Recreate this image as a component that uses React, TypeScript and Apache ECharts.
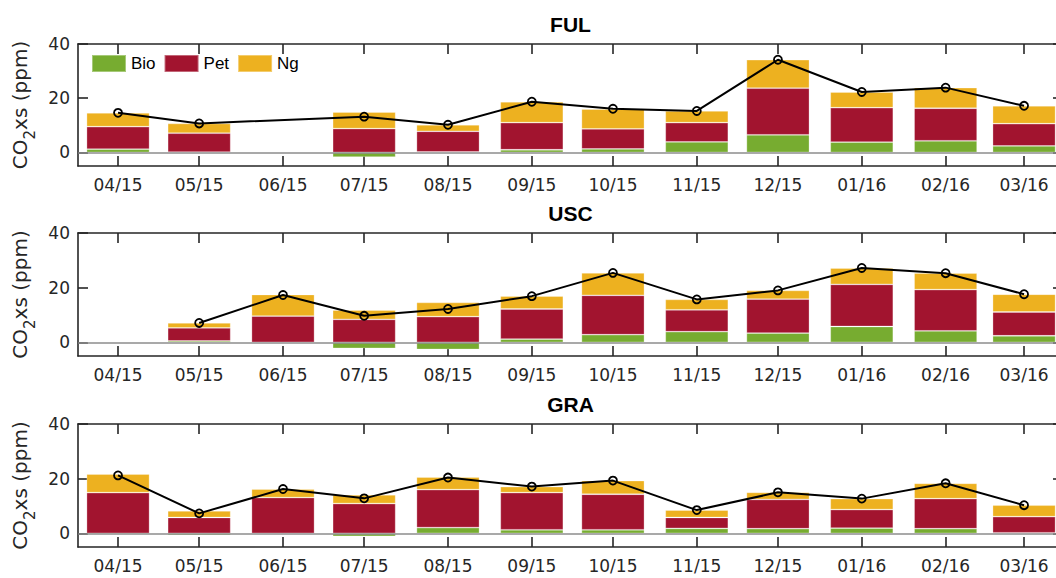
import React, { useEffect, useRef } from "react";
import * as echarts from "echarts";

// Month positions (days since 2015-04-01) and their labels
const tickDays = [0, 30, 61, 91, 122, 153, 183, 214, 244, 275, 306, 335];
const tickLabels = ["04/15", "05/15", "06/15", "07/15", "08/15", "09/15", "10/15", "11/15", "12/15", "01/16", "02/16", "03/16"];
const yTicks = [0, 20, 40];
const siteNames = ["FUL", "USC", "GRA"];

// FUL
const fulBio = [1.2, 0.1, null, -1.7, 0.2, 1.0, 1.3, 3.9, 6.5, 3.8, 4.3, 2.4];
const fulPet = [8.3, 7.0, null, 8.8, 7.6, 10.0, 7.4, 7.1, 17.2, 12.7, 12.0, 8.2];
const fulNg = [5.1, 3.6, null, 6.1, 2.4, 7.7, 7.3, 4.3, 10.5, 5.8, 7.6, 6.6];
const fulTotal = [14.6, 10.7, null, 13.2, 10.2, 18.7, 16.1, 15.3, 34.2, 22.3, 23.9, 17.2];

// USC
const uscBio = [0.3, 0.5, 0, -2.2, -2.6, 1.2, 2.8, 3.9, 3.4, 5.8, 4.2, 2.4];
const uscPet = [0, 4.8, 9.6, 8.4, 9.4, 11.0, 14.4, 8.0, 12.4, 15.4, 15.1, 8.7];
const uscNg = [0, 1.8, 7.9, 3.4, 5.2, 4.7, 8.2, 3.8, 3.2, 6.0, 6.0, 6.5];
const uscTotal = [null, 7.1, 17.3, 9.7, 12.2, 16.9, 25.4, 15.7, 19.0, 27.2, 25.3, 17.6];

// GRA
const graBio = [-0.4, -0.7, 0, -1.1, 2.1, 1.3, 1.3, 1.8, 1.7, 1.9, 1.7, 0.2];
const graPet = [14.9, 5.8, 13.1, 10.9, 13.9, 13.6, 13.0, 4.0, 10.7, 6.8, 11.0, 5.9];
const graNg = [6.8, 2.4, 3.1, 3.2, 4.6, 2.2, 5.0, 2.7, 2.6, 4.0, 5.6, 4.2];
const graTotal = [21.2, 7.3, 16.2, 12.8, 20.4, 17.1, 19.3, 8.5, 15.0, 12.7, 18.3, 10.3];

const siteData = [
  { bio: fulBio, pet: fulPet, ng: fulNg, total: fulTotal },
  { bio: uscBio, pet: uscPet, ng: uscNg, total: uscTotal },
  { bio: graBio, pet: graPet, ng: graNg, total: graTotal },
];

const COLORS = { Bio: "#77AC30", Pet: "#A2142F", Ng: "#EDB120" };
const AXIS_COLOR = "#262626";
const TICK_FONT = "DejaVu Sans";
const TEXT_FONT = "Liberation Sans";

const gridTops = [44, 233, 424];
const gridHeights = [122, 123, 123];
const GRID_LEFT = 78;
const GRID_WIDTH = 985;
const X_MIN = -14.8;
const X_MAX = 349.4;

// [value, day] so that the value column is the stacked one
const barRows = (vals: (number | null)[]) =>
  tickDays.map((d, i) => [vals[i] === null ? "-" : vals[i], d]);
const lineRows = (vals: (number | null)[]) =>
  tickDays.map((d, i) => [d, vals[i] === null ? "-" : vals[i]]);

function buildOption() {
  const grid: any[] = [];
  const xAxis: any[] = [];
  const yAxis: any[] = [];
  const series: any[] = [];
  const graphic: any[] = [];

  const axisLine = { show: true, onZero: false, lineStyle: { color: AXIS_COLOR, width: 1.6 } };
  const tickStyle = { color: AXIS_COLOR, width: 1.6 };

  for (let g = 0; g < 3; g++) {
    grid.push({
      left: GRID_LEFT,
      top: gridTops[g],
      width: GRID_WIDTH,
      height: gridHeights[g],
      containLabel: false,
      outerBoundsMode: "none",
    });

    xAxis.push({
      gridIndex: g,
      type: "value",
      min: X_MIN,
      max: X_MAX,
      position: "bottom",
      axisLine,
      axisTick: { show: true, inside: true, length: 10, lineStyle: tickStyle, customValues: tickDays },
      axisLabel: {
        show: true,
        customValues: tickDays,
        formatter: (v: number) => {
          const i = tickDays.indexOf(Math.round(v));
          return i >= 0 ? tickLabels[i] : "";
        },
        color: AXIS_COLOR,
        fontSize: 17,
        fontFamily: TICK_FONT,
        margin: 10,
      },
      splitLine: { show: false },
    });
    xAxis.push({
      gridIndex: g,
      type: "value",
      min: X_MIN,
      max: X_MAX,
      position: "top",
      axisLine,
      axisTick: { show: true, inside: true, length: 10, lineStyle: tickStyle, customValues: tickDays },
      axisLabel: { show: false },
      splitLine: { show: false },
    });

    yAxis.push({
      gridIndex: g,
      type: "value",
      min: -5,
      max: 40,
      position: "left",
      axisLine,
      axisTick: { show: true, inside: true, length: 10, lineStyle: tickStyle, customValues: yTicks },
      axisLabel: { show: true, customValues: yTicks, color: AXIS_COLOR, fontSize: 17, fontFamily: TICK_FONT, margin: 8 },
      splitLine: { show: false },
      name: "{a|CO}{b|2}{a|xs (ppm)}",
      nameLocation: "middle",
      nameGap: 37,
      nameTextStyle: {
        color: AXIS_COLOR,
        rich: {
          a: { fontSize: 20, fontFamily: TICK_FONT, color: AXIS_COLOR },
          b: { fontSize: 15, fontFamily: TICK_FONT, color: AXIS_COLOR, padding: [20, 0, 0, 0] },
        },
      },
    });
    yAxis.push({
      gridIndex: g,
      type: "value",
      min: -5,
      max: 40,
      position: "right",
      axisLine: { show: false, onZero: false },
      axisTick: { show: true, inside: true, length: 10, lineStyle: tickStyle, customValues: yTicks },
      axisLabel: { show: false },
      splitLine: { show: false },
    });

    const d = siteData[g];
    const xi = g * 2;
    const yi = g * 2;
    const mk = (name: "Bio" | "Pet" | "Ng", vals: (number | null)[], extra: any = {}) => ({
      type: "bar",
      name,
      xAxisIndex: xi,
      yAxisIndex: yi,
      stack: "s" + g,
      barWidth: 63,
      encode: { x: 1, y: 0 },
      data: barRows(vals),
      itemStyle: { color: COLORS[name], borderColor: "rgba(255,255,255,0.35)", borderWidth: 0.8 },
      ...extra,
    });
    series.push(
      mk("Bio", d.bio, {
        markLine: {
          silent: true,
          symbol: ["none", "none"],
          label: { show: false },
          lineStyle: { color: "#8c8c8c", width: 1.5, type: "solid" },
          data: [{ yAxis: 0 }],
        },
      })
    );
    series.push(mk("Pet", d.pet));
    series.push(mk("Ng", d.ng));
    series.push({
      type: "line",
      name: "Total",
      xAxisIndex: xi,
      yAxisIndex: yi,
      data: lineRows(d.total),
      connectNulls: true,
      z: 10,
      lineStyle: { color: "#000", width: 2 },
      symbol: "circle",
      symbolSize: 8,
      itemStyle: { color: "rgba(0,0,0,0)", borderColor: "#000", borderWidth: 1.8 },
    });

    graphic.push({
      type: "text",
      x: GRID_LEFT + GRID_WIDTH / 2,
      y: gridTops[g] - 20,
      style: {
        text: siteNames[g],
        font: "bold 21px 'Liberation Sans'",
        fill: "#000",
        align: "center",
        verticalAlign: "middle",
        textAlign: "center",
        textVerticalAlign: "middle",
      },
    });
  }

  return {
    animation: false,
    backgroundColor: "#fff",
    grid,
    xAxis,
    yAxis,
    series,
    graphic,
    legend: {
      data: ["Bio", "Pet", "Ng"],
      left: 91,
      top: 54,
      padding: 0,
      itemWidth: 34,
      itemHeight: 17,
      itemGap: 8,
      icon: "rect",
      textStyle: { fontSize: 17, fontFamily: TEXT_FONT, color: "#000" },
    },
  };
}

export default function App() {
  const ref = useRef<HTMLDivElement>(null);
  useEffect(() => {
    if (!ref.current) return;
    const chart = echarts.init(ref.current, undefined, { renderer: "svg" });
    chart.setOption(buildOption() as any);
    return () => chart.dispose();
  }, []);
  return <div ref={ref} style={{ position: "fixed", left: 0, top: 0, width: 1056, height: 578, background: "#fff" }} />;
}
